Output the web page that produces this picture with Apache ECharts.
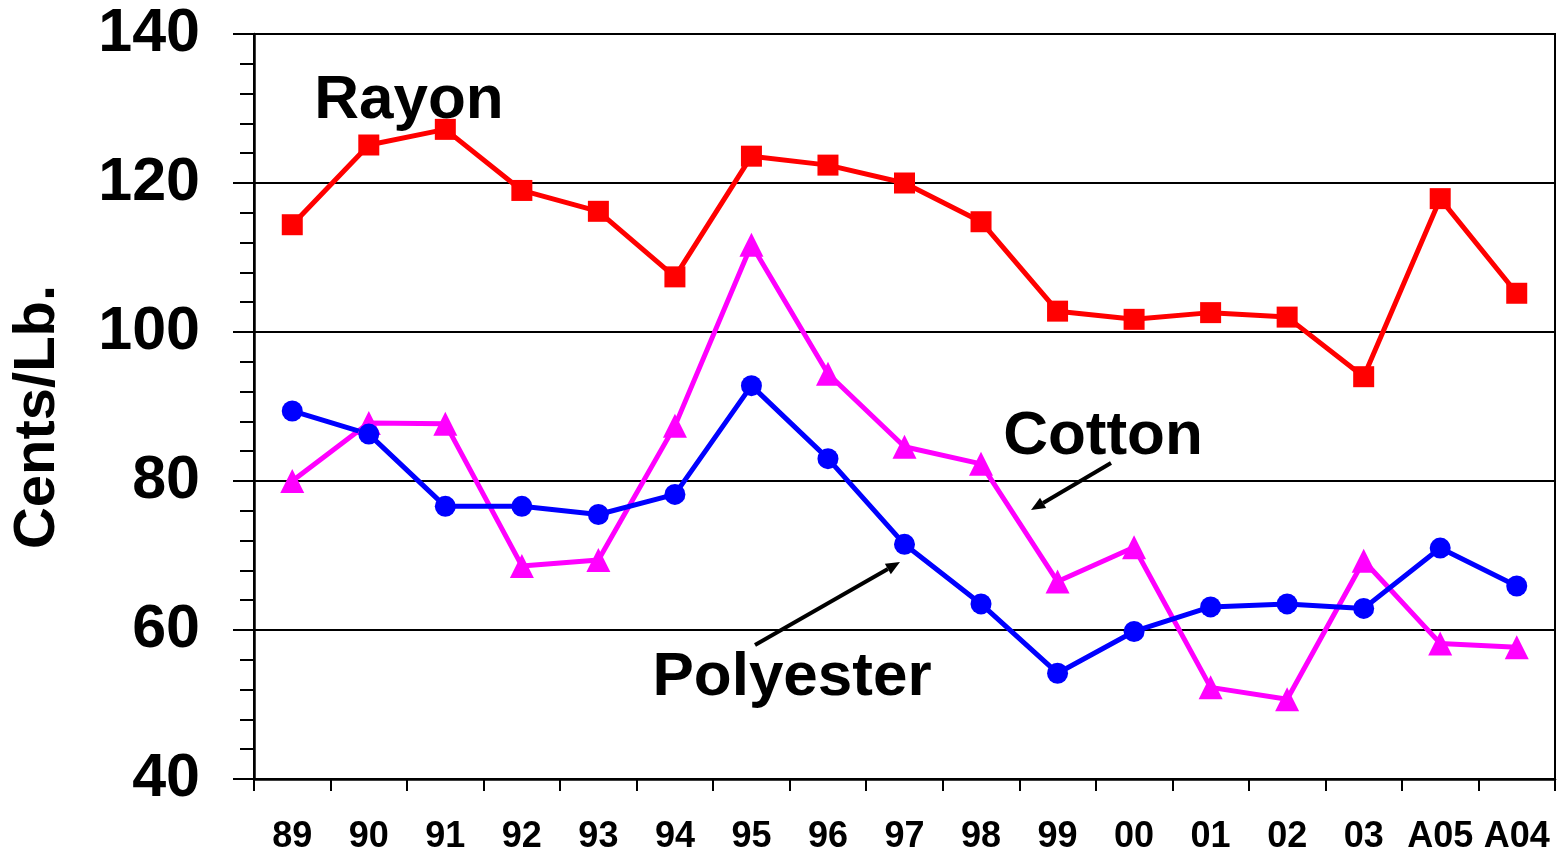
<!DOCTYPE html>
<html>
<head>
<meta charset="utf-8">
<script src="https://cdn.jsdelivr.net/npm/echarts@6/dist/echarts.min.js"></script>
<style>
html,body{margin:0;padding:0;background:#fff;}
#chart{width:1557px;height:851px;}
</style>
</head>
<body>
<div id="chart"></div>
<script>
const categories = ['89','90','91','92','93','94','95','96','97','98','99','00','01','02','03','A05','A04'];
const rayon = [114.4,125.1,127.2,119.0,116.2,107.4,123.6,122.4,120.0,114.8,102.8,101.7,102.6,102.0,94.0,117.9,105.2];
const cotton = [80.0,87.8,87.7,68.6,69.4,87.4,111.7,94.4,84.6,82.3,66.5,71.1,52.3,50.7,69.3,58.2,57.7];
const polyester = [89.4,86.3,76.6,76.6,75.5,78.2,92.8,83.0,71.5,63.5,54.2,59.8,63.1,63.5,62.9,71.0,65.9];
const yMin = 40, yMax = 140, yStep = 20;
const yTitle = 'Cents/Lb.';
const labels = {rayon:'Rayon', cotton:'Cotton', polyester:'Polyester'};

const FONT = '"Liberation Sans", Arial, sans-serif';
const chart = echarts.init(document.getElementById('chart'));

function arrow(x1, y1, x2, y2) {
  const ang = Math.atan2(y2 - y1, x2 - x1);
  const L = 14, W = 6;
  const bx = x2 - L * Math.cos(ang), by = y2 - L * Math.sin(ang);
  const px = -Math.sin(ang) * W, py = Math.cos(ang) * W;
  return [
    {type:'line', shape:{x1:x1, y1:y1, x2:bx, y2:by}, style:{stroke:'#000', lineWidth:4}},
    {type:'polygon', shape:{points:[[x2,y2],[bx+px,by+py],[bx-px,by-py]]}, style:{fill:'#000'}}
  ];
}

const lineSeries = (name, data, color, symbol, size) => ({
  name, type:'line', data, symbol, symbolSize:size, showAllSymbol:true,
  lineStyle:{color, width:5}, itemStyle:{color, borderWidth:0}, emphasis:{disabled:true}
});

chart.setOption({
  animation:false,
  backgroundColor:'#fff',
  grid:{left:254, right:2, top:34, bottom:72, outerBoundsMode:'none', containLabel:false,
        show:true, borderColor:'#000', borderWidth:2, backgroundColor:'transparent'},
  xAxis:{
    type:'category', data:categories, boundaryGap:true,
    axisLine:{lineStyle:{color:'#000', width:2.5}},
    axisTick:{show:true, length:12, interval:0, lineStyle:{color:'#000', width:2}},
    axisLabel:{interval:0, margin:40, color:'#000', fontSize:36, fontWeight:'bold', fontFamily:FONT},
    splitLine:{show:false}
  },
  yAxis:{
    type:'value', min:yMin, max:yMax, interval:yStep,
    axisLine:{show:true, lineStyle:{color:'#000', width:2.5}},
    axisTick:{show:true, length:21, lineStyle:{color:'#000', width:2}},
    minorTick:{show:true, splitNumber:5, length:14, lineStyle:{color:'#000', width:2}},
    axisLabel:{margin:54, color:'#000', fontSize:61, fontWeight:'bold', fontFamily:FONT},
    splitLine:{show:true, lineStyle:{color:'#000', width:2}}
  },
  series:[
    lineSeries('Rayon', rayon, '#FF0000', 'rect', 21),
    lineSeries('Cotton', cotton, '#FF00FF', 'triangle', 24),
    lineSeries('Polyester', polyester, '#0000FF', 'circle', 21)
  ],
  graphic:[
    {type:'text', x:38, y:417, rotation:Math.PI/2,
     style:{text:yTitle, font:'bold 58px ' + FONT, fill:'#000', textAlign:'center', textVerticalAlign:'middle'}},
    {type:'text', x:409, y:101,
     style:{text:labels.rayon, font:'bold 62px ' + FONT, fill:'#000', textAlign:'center', textVerticalAlign:'middle'}},
    {type:'text', x:1103, y:437,
     style:{text:labels.cotton, font:'bold 62px ' + FONT, fill:'#000', textAlign:'center', textVerticalAlign:'middle'}},
    {type:'text', x:792, y:678,
     style:{text:labels.polyester, font:'bold 62px ' + FONT, fill:'#000', textAlign:'center', textVerticalAlign:'middle'}},
    ...arrow(1111, 463, 1031, 510),
    ...arrow(755, 645, 900, 562)
  ]
});
</script>
</body>
</html>
